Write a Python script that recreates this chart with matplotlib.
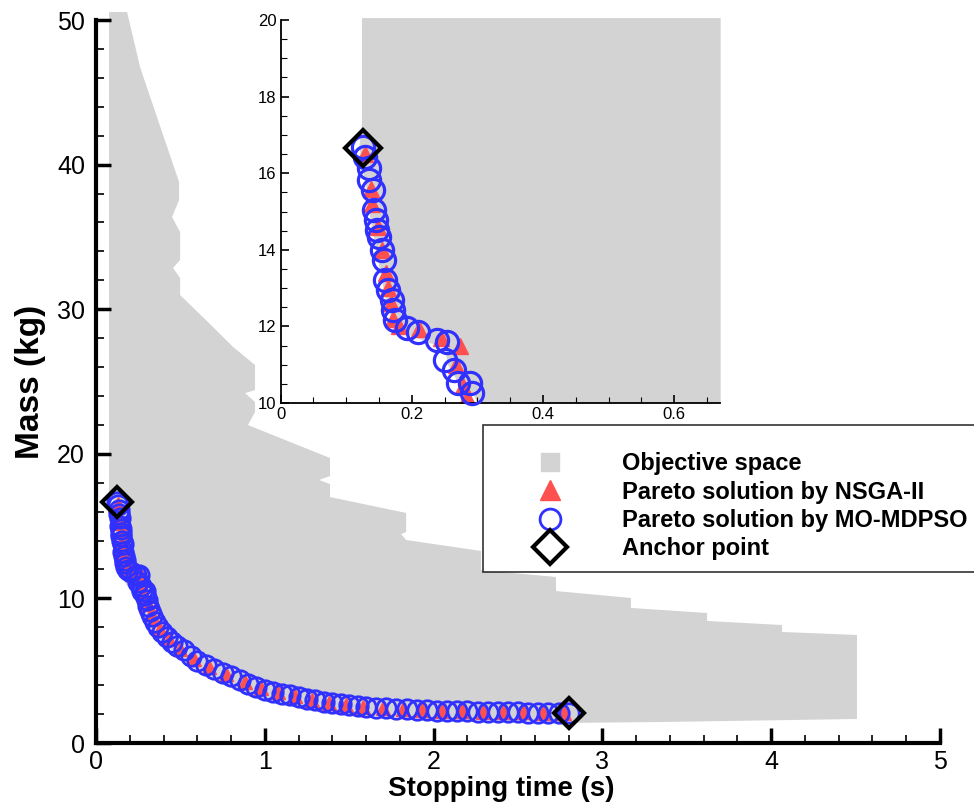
import matplotlib.pyplot as plt
from matplotlib.lines import Line2D
from matplotlib.ticker import MultipleLocator

plt.rcParams["font.family"] = ["Liberation Sans", "DejaVu Sans"]

# objective space outline (main view), stopping time [s] / mass [kg]
space_t = [0.077, 0.184, 0.261, 0.361, 0.492, 0.492, 0.450, 0.498, 0.498, 0.456,
           0.498, 0.498, 0.693, 0.812, 0.942, 0.942, 0.883, 0.942, 0.942, 0.900,
           1.386, 1.386, 1.321, 1.386, 1.386, 1.837, 1.837, 1.807, 1.837, 2.281,
           2.281, 2.725, 2.725, 3.169, 3.169, 3.620, 3.620, 4.064, 4.064, 4.508,
           4.508, 3.340, 2.880, 2.400, 2.000, 1.600, 1.300, 1.000, 0.800, 0.600,
           0.450, 0.330, 0.260, 0.200, 0.150, 0.125, 0.115, 0.110, 0.077]
space_m = [50.55, 50.55, 46.74, 43.29, 38.80, 37.55, 36.38, 35.34, 33.40, 32.85,
           32.16, 30.98, 28.77, 27.39, 26.14, 24.41, 24.20, 23.58, 22.89, 21.99,
           19.71, 18.46, 18.19, 17.91, 17.01, 15.91, 14.59, 14.45, 14.04, 13.28,
           11.96, 11.48, 10.51, 10.03, 9.34, 8.99, 8.44, 8.16, 7.68, 7.47,
           1.66, 1.45, 1.40, 1.55, 1.65, 1.90, 2.30, 2.95, 3.80, 5.00,
           6.40, 7.70, 9.20, 10.60, 11.50, 12.50, 15.00, 16.60, 17.30]

# objective space outline in the zoomed view
zoom_t = [0.124, 0.124, 0.120, 0.125, 0.131, 0.135, 0.140, 0.146, 0.152, 0.158,
          0.165, 0.172, 0.180, 0.200, 0.230, 0.250, 0.255, 0.265, 0.275, 0.295,
          0.300, 0.671, 0.671]
zoom_m = [20.05, 17.30, 16.70, 16.10, 15.60, 15.00, 14.50, 14.00, 13.40, 12.90,
          12.40, 12.10, 11.85, 11.75, 11.55, 11.50, 11.00, 10.70, 10.40, 10.20,
          10.00, 10.00, 20.05]

# Pareto solutions by MO-MDPSO
mdpso_t = [0.126, 0.129, 0.134, 0.135, 0.141, 0.143, 0.146, 0.147, 0.150, 0.154,
           0.157, 0.159, 0.164, 0.169, 0.172, 0.175, 0.192, 0.210, 0.238, 0.253,
           0.251, 0.264, 0.271, 0.289, 0.292, 0.30, 0.31, 0.32, 0.33, 0.35,
           0.37, 0.39, 0.42, 0.45, 0.48, 0.52, 0.56, 0.60, 0.65, 0.70,
           0.75, 0.80, 0.85, 0.90, 0.95, 1.00, 1.05, 1.10, 1.15, 1.20,
           1.25, 1.30, 1.35, 1.40, 1.45, 1.50, 1.55, 1.60, 1.66, 1.72,
           1.78, 1.84, 1.90, 1.96, 2.02, 2.08, 2.14, 2.20, 2.26, 2.32,
           2.38, 2.44, 2.50, 2.56, 2.62, 2.68, 2.74, 2.80]
mdpso_m = [16.69, 16.43, 16.13, 15.82, 15.56, 15.04, 14.78, 14.52, 14.34, 13.99,
           13.73, 13.21, 12.95, 12.69, 12.43, 12.17, 11.95, 11.86, 11.64, 11.60,
           11.12, 10.86, 10.51, 10.51, 10.25, 9.90, 9.50, 9.10, 8.80, 8.40,
           8.00, 7.70, 7.35, 7.00, 6.70, 6.40, 6.00, 5.70, 5.40, 5.10,
           4.85, 4.60, 4.35, 4.10, 3.90, 3.70, 3.55, 3.40, 3.30, 3.15,
           3.05, 2.95, 2.85, 2.75, 2.68, 2.60, 2.55, 2.50, 2.45, 2.42,
           2.38, 2.33, 2.30, 2.27, 2.24, 2.22, 2.20, 2.18, 2.16, 2.14,
           2.13, 2.12, 2.11, 2.10, 2.09, 2.08, 2.07, 2.06]

# Pareto solutions by NSGA-II
nsga_t = [0.128, 0.137, 0.140, 0.148, 0.155, 0.160, 0.163, 0.168, 0.172, 0.180,
          0.211, 0.245, 0.274, 0.268, 0.278, 0.284, 0.305, 0.325, 0.345, 0.38,
          0.43, 0.50, 0.58, 0.67, 0.77, 0.88, 0.98, 1.08, 1.18, 1.28,
          1.38, 1.48, 1.58, 1.70, 1.82, 1.93, 2.05, 2.17, 2.29, 2.41,
          2.53, 2.65, 2.77]
nsga_m = [16.50, 15.60, 15.20, 14.60, 14.00, 13.40, 13.00, 12.60, 12.20, 12.00,
          11.92, 11.70, 11.50, 11.00, 10.45, 10.15, 9.60, 8.95, 8.55, 7.85,
          7.20, 6.50, 5.80, 5.25, 4.75, 4.20, 3.80, 3.50, 3.25, 3.00,
          2.80, 2.64, 2.52, 2.43, 2.35, 2.29, 2.23, 2.18, 2.15, 2.13,
          2.11, 2.09, 2.07]

# anchor points
anchor_t = [0.125, 2.80]
anchor_m = [16.67, 2.07]

gray = "#d3d3d3"
red = "#ff5050"
blue = "#3030ff"

fig = plt.figure(figsize=(9.74, 8.07), dpi=100)
ax = fig.add_axes([0.0986, 0.0793, 0.8665, 0.8959])

# main view
ax.fill(space_t, space_m, color=gray, lw=0, clip_on=False, zorder=1)
ax.plot(nsga_t, nsga_m, ls="none", marker="^", ms=10, color=red, mec=red, zorder=2)
ax.plot(mdpso_t, mdpso_m, ls="none", marker="o", ms=14, mfc="none", mec=blue,
        mew=2, zorder=3)
ax.plot(anchor_t, anchor_m, ls="none", marker="D", ms=15, mfc="none", mec="black",
        mew=3, zorder=4)

ax.set_xlim(0, 5)
ax.set_ylim(0, 50)
ax.xaxis.set_major_locator(MultipleLocator(1))
ax.xaxis.set_minor_locator(MultipleLocator(0.2))
ax.yaxis.set_major_locator(MultipleLocator(10))
ax.yaxis.set_minor_locator(MultipleLocator(2))
for side in ["top", "right"]:
    ax.spines[side].set_visible(False)
for side in ["left", "bottom"]:
    ax.spines[side].set_linewidth(3)
ax.tick_params(which="major", direction="in", length=11, width=2.5, labelsize=18, pad=8)
ax.tick_params(axis="x", which="major", pad=5)
ax.tick_params(which="minor", direction="in", length=6, width=1.2)
ax.set_xlabel("Stopping time (s)", fontsize=20, fontweight="bold")
ax.xaxis.set_label_coords(0.48, -0.045)
ax.set_ylabel("Mass (kg)", fontsize=24, fontweight="bold", labelpad=8)

# legend
handles = [
    Line2D([], [], ls="none", marker="s", ms=13, color=gray),
    Line2D([], [], ls="none", marker="^", ms=14, color=red),
    Line2D([], [], ls="none", marker="o", ms=15, mfc="none", mec=blue, mew=2),
    Line2D([], [], ls="none", marker="D", ms=17, mfc="none", mec="black", mew=3),
]
labels = ["Objective space", "Pareto solution by NSGA-II",
          "Pareto solution by MO-MDPSO", "Anchor point"]
leg = fig.legend(handles, labels, loc="upper left", bbox_to_anchor=(0.4959, 0.4734),
                 borderaxespad=0, prop={"weight": "bold", "size": 17}, frameon=True,
                 fancybox=False, edgecolor="black", borderpad=0.5, handlelength=4.66,
                 handletextpad=0.73, labelspacing=0.23, title=" ", title_fontsize=7)
leg.get_frame().set_linewidth(1.2)

# zoomed view (only the solutions above 10 kg)
axz = fig.add_axes([0.2882, 0.5006, 0.4510, 0.4746])
axz.fill(zoom_t, zoom_m, color=gray, lw=0, clip_on=False, zorder=1)
axz.plot(nsga_t[:16], nsga_m[:16], ls="none", marker="^", ms=11, color=red, mec=red,
         zorder=2)
axz.plot(mdpso_t[:25], mdpso_m[:25], ls="none", marker="o", ms=16, mfc="none", mec=blue,
         mew=2.3, zorder=3, clip_on=False)
axz.plot(anchor_t[:1], anchor_m[:1], ls="none", marker="D", ms=18, mfc="none",
         mec="black", mew=3, zorder=4)
axz.set_xlim(0, 0.67)
axz.set_ylim(10, 20)
axz.xaxis.set_major_locator(MultipleLocator(0.2))
axz.xaxis.set_minor_locator(MultipleLocator(0.05))
axz.yaxis.set_major_locator(MultipleLocator(2))
axz.yaxis.set_minor_locator(MultipleLocator(0.5))
axz.set_xticks([0, 0.2, 0.4, 0.6], ["0", "0.2", "0.4", "0.6"])
for side in ["top", "right"]:
    axz.spines[side].set_visible(False)
for side in ["left", "bottom"]:
    axz.spines[side].set_linewidth(1.3)
axz.tick_params(which="major", direction="in", length=6, width=1.2, labelsize=12, pad=3)
axz.tick_params(which="minor", direction="in", length=4, width=0.8)

fig.savefig("out.png", dpi=100)
